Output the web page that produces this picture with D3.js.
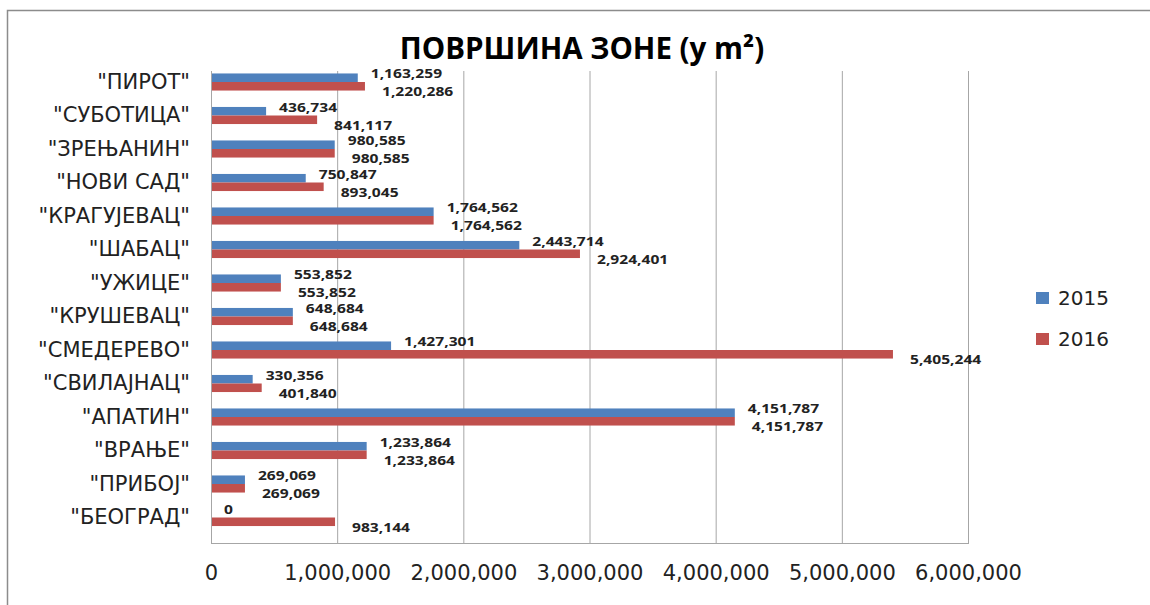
<!DOCTYPE html>
<html>
<head>
<meta charset="utf-8">
<script src="https://cdn.jsdelivr.net/npm/d3@7"></script>
<style>
  body { margin: 0; background: #fff; }
  svg { display: block; }
</style>
</head>
<body>
<svg id="chart" width="1150" height="605"></svg>
<script>
// categories, top to bottom
var cities = ['"ПИРОТ"', '"СУБОТИЦА"', '"ЗРЕЊАНИН"', '"НОВИ САД"', '"КРАГУЈЕВАЦ"', '"ШАБАЦ"', '"УЖИЦЕ"',
              '"КРУШЕВАЦ"', '"СМЕДЕРЕВО"', '"СВИЛАЈНАЦ"', '"АПАТИН"', '"ВРАЊЕ"', '"ПРИБОЈ"', '"БЕОГРАД"'];
var area2015 = [1163259, 436734, 980585, 750847, 1764562, 2443714, 553852, 648684, 1427301, 330356, 4151787, 1233864, 269069, 0];
var area2016 = [1220286, 841117, 980585, 893045, 1764562, 2924401, 553852, 648684, 5405244, 401840, 4151787, 1233864, 269069, 983144];
var years = ["2015", "2016"];
var xTicks = [0, 1000000, 2000000, 3000000, 4000000, 5000000, 6000000];

var colors = ["#4F81BD", "#C0504D"];
var svg = d3.select("#chart");

// outer frame of the chart
svg.append("rect")
    .attr("x", 7.5).attr("y", 10.5)
    .attr("width", 1200).attr("height", 700)
    .attr("fill", "none").attr("stroke", "#8c8c8c").attr("stroke-width", 1.5);

var plotLeft = 211, plotRight = 968, plotTop = 71, plotBottom = 543;

var x = d3.scaleLinear().domain([0, 6000000]).range([plotLeft, plotRight]);
// bands sit high in the plot, like the excel original
var y = d3.scaleBand().domain(cities).range([65.25, 534.25]).paddingInner(0.49).paddingOuter(0.245);
var fmt = d3.format(",");

// title
svg.append("text")
    .attr("x", 582).attr("y", 59)
    .attr("text-anchor", "middle")
    .style("font-family", "'Open Sans', sans-serif")
    .style("font-weight", "bold")
    .style("font-size", "29.5px")
    .attr("fill", "#000")
    .text("ПОВРШИНА ЗОНЕ (у m²)");

// grid lines
svg.append("g")
    .selectAll("line")
    .data(xTicks)
    .enter()
    .append("line")
    .attr("x1", function (d) { return x(d) + 0.5 })
    .attr("x2", function (d) { return x(d) + 0.5 })
    .attr("y1", plotTop)
    .attr("y2", plotBottom)
    .attr("stroke", "#a6a6a6")
    .attr("stroke-width", 1);

// bottom line of plot
svg.append("line")
    .attr("x1", plotLeft).attr("x2", plotRight + 1)
    .attr("y1", plotBottom + 0.5).attr("y2", plotBottom + 0.5)
    .attr("stroke", "#a6a6a6");

// x axis labels
var xAxis = d3.axisBottom(x).tickValues(xTicks).tickFormat(fmt).tickSize(0).tickPadding(0);
var gx = svg.append("g")
    .attr("transform", "translate(0," + (plotBottom + 22) + ")")
    .call(xAxis);
gx.select(".domain").remove();
gx.selectAll("text")
    .style("font-family", "'DejaVu Sans', sans-serif")
    .style("font-size", "21px")
    .attr("fill", "#222");

// category labels
var yAxis = d3.axisLeft(y).tickSize(0).tickPadding(21);
var gy = svg.append("g")
    .attr("transform", "translate(" + plotLeft + ",0)")
    .call(yAxis);
gy.select(".domain").remove();
gy.selectAll("text")
    .style("font-family", "'DejaVu Sans', sans-serif")
    .style("font-size", "21px")
    .attr("fill", "#222");

var sub = d3.scaleBand().domain(years).range([0, y.bandwidth()]);
var series = [area2015, area2016];

series.forEach(function (vals, s) {
    var rows = cities.map(function (c, i) { return { city: c, v: vals[i] } });

    svg.append("g")
        .selectAll("rect")
        .data(rows)
        .enter()
        .append("rect")
        .attr("x", x(0) + 1)
        .attr("y", function (d) { return y(d.city) + sub(years[s]) })
        .attr("width", function (d) { return Math.max(0, x(d.v) - x(0) - 1) })
        .attr("height", sub.bandwidth())
        .attr("fill", colors[s]);

    // value labels: 2015 above-right, 2016 below-right (text stretched wide like the original)
    svg.append("g")
        .selectAll("text")
        .data(rows)
        .enter()
        .append("text")
        .attr("transform", function (d) {
            var tx = x(d.v) + (s === 0 ? 13 : 17);
            var ty = y(d.city) + (s === 0 ? 5 : 23);
            return "translate(" + tx + "," + ty + ") scale(1.3,1)";
        })
        .style("font-family", "'Noto Sans', sans-serif")
        .style("font-weight", "bold")
        .style("font-size", "12px")
        .attr("fill", "#222")
        .text(function (d) { return fmt(d.v) });
});

// legend
var legend = svg.append("g")
    .selectAll("g")
    .data(years)
    .enter()
    .append("g")
    .attr("transform", function (d, i) { return "translate(1036," + (292 + i * 41) + ")" });
legend.append("rect")
    .attr("width", 13).attr("height", 12)
    .attr("fill", function (d, i) { return colors[i] });
legend.append("text")
    .attr("x", 22).attr("y", 13)
    .style("font-family", "'DejaVu Sans', sans-serif")
    .style("font-size", "20px")
    .attr("fill", "#222")
    .text(function (d) { return d });
</script>
</body>
</html>
